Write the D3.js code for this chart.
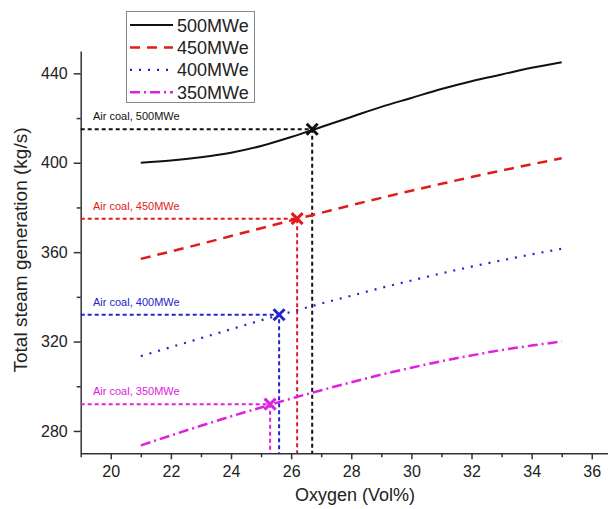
<!DOCTYPE html>
<html><head><meta charset="utf-8">
<script src="https://cdn.jsdelivr.net/npm/d3@7"></script>
<style>body{margin:0;background:#fff}svg{display:block;font-family:"Liberation Sans",Arial,sans-serif}</style>
</head><body><svg id="c" width="608" height="509"></svg>
<script>
const oxygen = [21,22,23,24,25,26,27,28,29,30,31,32,33,34,35];
const s500 = [400,401,402.5,404.5,407.5,411.5,416,420.5,425,429,433,436.5,439.5,442.5,445];
const s450 = [357,360.3,363.7,367.2,370.7,374.2,377.6,381,384.3,387.5,390.6,393.6,396.5,399.3,402];
const s400 = [313.5,317.5,321.5,325.5,329.5,333.3,337,340.5,344,347.3,350.5,353.5,356.3,359,361.5];
const s350 = [273.5,278,282.3,286.5,290.5,294.5,298.2,301.8,305.2,308.3,311.2,313.8,316.2,318.2,320];
const seriesNames = ["500MWe","450MWe","400MWe","350MWe"];
const airCoalX = [26.7,26.2,25.6,25.3];
const airCoalY = [415,375,332,292];
const airCoalLabels = ["Air coal, 500MWe","Air coal, 450MWe","Air coal, 400MWe","Air coal, 350MWe"];
const xTicks = [20,22,24,26,28,30,32,34,36];
const yTicks = [280,320,360,400,440];

const colors = ["#111111","#e01b1b","#2424c8","#e020e0"];
const dashes = [null,"10,7","2,7","10,4,2,4"];
const widths = [2,2.5,2.2,2.5];
const refCols = ["#111111","#e01b1b","#2424c8","#e020e0"];

const svg = d3.select("#c");
const x = d3.scaleLinear().domain([19,36.6]).range([80.7,609.8]);
const y = d3.scaleLinear().domain([270,450]).range([453.3,51]);

// axes
svg.append("g").attr("transform",`translate(0,${y(270)})`)
  .call(d3.axisBottom(x).tickValues(xTicks).tickSize(6).tickSizeOuter(0).tickPadding(6));
svg.append("g").attr("transform",`translate(0,${y(270)})`)
  .call(d3.axisBottom(x).tickValues(d3.range(19,37,1).filter(v=>v%2)).tickSize(4).tickFormat(""))
  .select(".domain").remove();
svg.append("g").attr("transform",`translate(${x(19)},0)`)
  .call(d3.axisLeft(y).tickValues(yTicks).tickSize(7).tickSizeOuter(0).tickPadding(6));
svg.append("g").attr("transform",`translate(${x(19)},0)`)
  .call(d3.axisLeft(y).tickValues([300,340,380,420]).tickSize(4).tickFormat(""))
  .select(".domain").remove();
svg.selectAll(".domain").attr("stroke","#333").attr("stroke-width",1.5);
svg.selectAll(".tick line").attr("stroke","#333").attr("stroke-width",1.5);
svg.selectAll(".tick text").attr("font-size",16).attr("fill","#222").attr("font-family","Liberation Sans, Arial, sans-serif");

// axis titles
svg.append("text").attr("x",355).attr("y",501).attr("text-anchor","middle")
  .attr("font-size",18).attr("fill","#222").text("Oxygen (Vol%)");
svg.append("text").attr("transform","translate(27,250) rotate(-90)").attr("text-anchor","middle")
  .attr("font-size",19).attr("fill","#222").text("Total steam generation (kg/s)");

// reference drop lines
airCoalX.forEach((ax,i)=>{
  svg.append("path").attr("d",`M${x(19)},${y(airCoalY[i])}H${x(ax)}V${y(270)}`)
    .attr("fill","none").attr("stroke",refCols[i]).attr("stroke-width",2).attr("stroke-dasharray","4,3");
});

// curves
const data = [s500,s450,s400,s350];
const line = d3.line().x((d,i)=>x(oxygen[i])).y(d=>y(d)).curve(d3.curveMonotoneX);
data.forEach((s,i)=>{
  svg.append("path").attr("d",line(s)).attr("fill","none").attr("stroke",colors[i])
    .attr("stroke-width",widths[i]).attr("stroke-dasharray",dashes[i]).attr("stroke-linecap","butt");
});

// markers
airCoalX.forEach((ax,i)=>{
  const cx=x(ax), cy=y(airCoalY[i]), r=5.5;
  svg.append("path").attr("d",`M${cx-r},${cy-r}L${cx+r},${cy+r}M${cx-r},${cy+r}L${cx+r},${cy-r}`)
    .attr("stroke",refCols[i]).attr("stroke-width",3);
  svg.append("text").attr("x",93).attr("y",cy-9).attr("font-size",11).attr("fill",refCols[i])
    .text(airCoalLabels[i]);
});

// legend
const lg = svg.append("g");
lg.append("rect").attr("x",126.5).attr("y",11.5).attr("width",128).attr("height",91)
  .attr("fill","#fff").attr("stroke","#888").attr("stroke-width",1);
seriesNames.forEach((n,i)=>{
  const ly = 25 + i*22.4;
  lg.append("line").attr("x1",130).attr("x2",173).attr("y1",ly).attr("y2",ly)
    .attr("stroke",colors[i]).attr("stroke-width",widths[i]).attr("stroke-dasharray",dashes[i]);
  lg.append("text").attr("x",177).attr("y",ly+6.5).attr("font-size",18).attr("fill","#222").text(n);
});
</script></body></html>
